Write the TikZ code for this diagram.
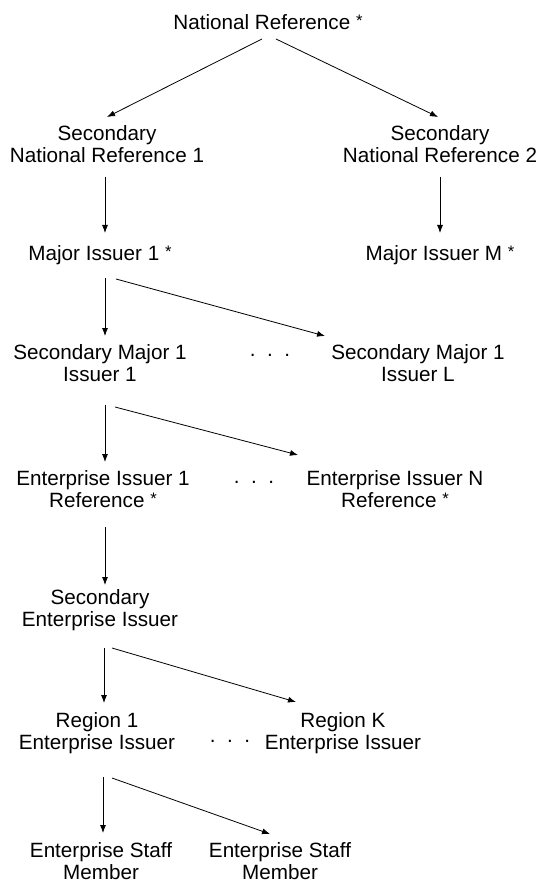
\documentclass[tikz,border=0pt]{standalone}
\usepackage{fontspec}
\setmainfont{Liberation Sans}
\usetikzlibrary{arrows.meta}

\newcommand{\rootmark}{\raisebox{2.5pt}{\fontsize{12.5}{12.5}\selectfont *}}

\tikzset{
  lbl/.style={align=center, inner sep=0pt, font=\fontsize{15.5}{16.5}\selectfont},
  link/.style={->, line width=0.6pt}
}

\begin{document}
\begin{tikzpicture}[x=0.75pt, y=-0.75pt, >={Latex[length=6pt,width=4.5pt]}] % px grid, y down
\useasboundingbox (0,0) rectangle (551,884);

\node[lbl] (nat) at (268,22) {National Reference \rootmark};

    \node[lbl] (sec1) at (107,144) {Secondary\\National Reference 1};
    \node[lbl] (sec2) at (440,144) {Secondary\\National Reference 2};

    \node[lbl] (major1) at (100,255) {Major Issuer 1 \rootmark};
    \node[lbl] (majorM) at (440,255) {Major Issuer M \rootmark};

    \node[lbl] (secmaj1) at (100,363) {Secondary Major 1\\Issuer 1};
    \node[lbl] (dotsA)   at (270,355) {.\ \ .\ \ .};
    \node[lbl] (secmajL) at (418,363) {Secondary Major 1\\Issuer L};

    \node[lbl] (ent1) at (103,489) {Enterprise Issuer 1\\Reference \rootmark};
    \node[lbl] (dotsB) at (254,482) {.\ \ .\ \ .};
    \node[lbl] (entN) at (395,489) {Enterprise Issuer N\\Reference \rootmark};

    \node[lbl] (secent) at (100,610) {Secondary\\Enterprise Issuer};

    \node[lbl] (reg1) at (97,733) {Region 1\\Enterprise Issuer};
    \node[lbl] (dotsC) at (230,741) {.\ \ .\ \ .};
    \node[lbl] (regK) at (343,733) {Region K\\Enterprise Issuer};

    \node[lbl] (staff1) at (101,861) {Enterprise Staff\\Member};
    \node[lbl] (staff2) at (280,861) {Enterprise Staff\\Member};

    \draw[link] ([shift={(-6,17)}]nat.center) -- ([shift={(0,-27)}]sec1.center);
    \draw[link] ([shift={(8,17)}]nat.center) -- ([shift={(-2,-27)}]sec2.center);

    \draw[link] ([shift={(-2,33)}]sec1.center) -- ([shift={(5,-22)}]major1.center);
    \draw[link] ([shift={(0,33)}]sec2.center) -- ([shift={(0,-22)}]majorM.center);

    \draw[link] ([shift={(5,23)}]major1.center) -- ([shift={(5,-27)}]secmaj1.center);
    \draw[link] ([shift={(16,24)}]major1.center) -- ([shift={(-93,-27)}]secmajL.center);

    \draw[link] ([shift={(5,42)}]secmaj1.center) -- ([shift={(2,-27)}]ent1.center);
    \draw[link] ([shift={(15,44)}]secmaj1.center) -- ([shift={(-97,-34)}]entN.center);

    \draw[link] ([shift={(2,38)}]ent1.center) -- ([shift={(5,-25)}]secent.center);

    \draw[link] ([shift={(4,38)}]secent.center) -- ([shift={(7,-30)}]reg1.center);
    \draw[link] ([shift={(12,38)}]secent.center) -- ([shift={(-47,-31)}]regK.center);

    \draw[link] ([shift={(6,44)}]reg1.center) -- ([shift={(2,-28)}]staff1.center);
    \draw[link] ([shift={(15,45)}]reg1.center) -- ([shift={(-10,-27)}]staff2.center);

\end{tikzpicture}
\end{document}
